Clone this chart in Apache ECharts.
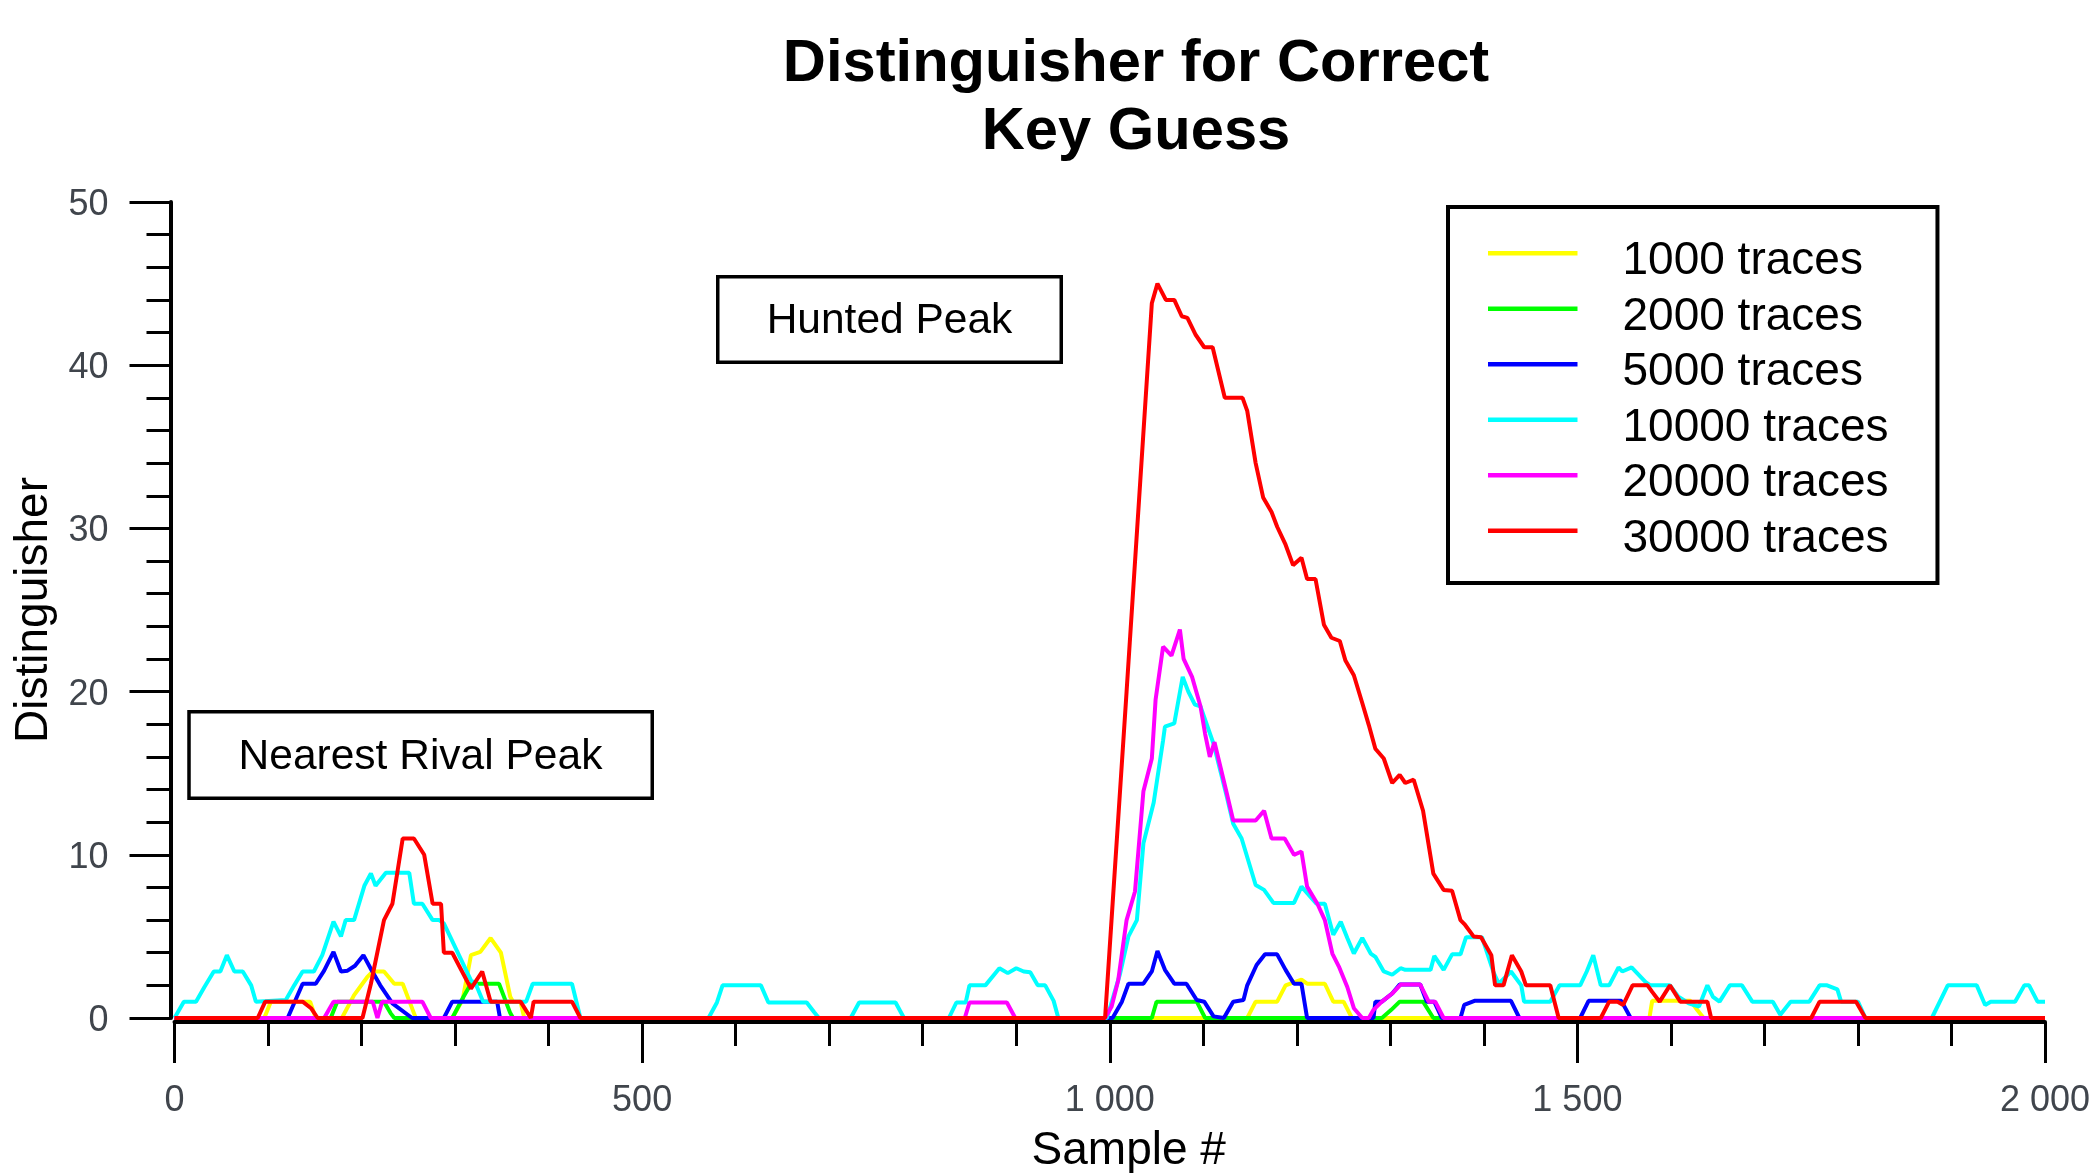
<!DOCTYPE html>
<html><head><meta charset="utf-8">
<script src="https://cdn.jsdelivr.net/npm/echarts@6/dist/echarts.min.js"></script>
<style>html,body{margin:0;padding:0;background:#fff}#c{width:2091px;height:1173px}</style>
</head><body><div id="c"></div><script>
const FONT = "'Liberation Sans', Arial, Helvetica, sans-serif";

const seriesNames = ['1000 traces','2000 traces','5000 traces','10000 traces','20000 traces','30000 traces'];
const seriesColors = ['#ffff00','#00ff00','#0000ff','#00ffff','#ff00ff','#ff0000'];
const xTickLabels = ['0','500','1 000','1 500','2 000'];
const yTickLabels = ['0','10','20','30','40','50'];

const traces1000 = [[0,0],[96,0],[103,1],[145,1],[151,0],[179,0],[192,1.4],[206,2.5],[212,2.85],[224,2.85],[235,2.1],[244,2.1],[256,0.3],[258,0],[297,0],[308,1.1],[317,3.85],[327,4.05],[338,4.9],[349,4],[359,1.3],[362,1],[370,1],[374,0],[1147,0],[1156,1],[1179,1],[1188,2],[1205,2.35],[1211,2.1],[1230,2.1],[1239,1],[1250,1],[1259,0],[1577,0],[1580,1.05],[1621,1.05],[1628,0.5],[1635,0],[2000,0]];
const traces2000 = [[0,0],[167,0],[174,1],[224,1],[231,0.3],[235,0],[297,0],[309,1.3],[317,2.1],[347,2.1],[359,0.3],[362,0],[1045,0],[1050,1],[1093,1],[1102,0],[1291,0],[1301,0.5],[1310,1],[1335,1],[1346,0],[2000,0]];
const traces5000 = [[0,0],[121,0],[137,2.1],[151,2.1],[160,2.9],[170,4.05],[178,2.85],[185,2.9],[193,3.2],[202,3.85],[210,3],[220,2],[233,0.9],[254,0],[288,0],[297,1],[345,1],[348,0],[1003,0],[1013,1],[1020,2.1],[1036,2.1],[1045,2.85],[1051,4.1],[1059,2.95],[1069,2.1],[1082,2.1],[1093,1.1],[1101,1],[1111,0.1],[1122,0],[1132,1],[1143,1.1],[1147,2],[1157,3.25],[1166,3.9],[1179,3.9],[1188,2.95],[1197,2.1],[1205,2.1],[1211,0],[1282,0],[1284,1],[1291,1],[1302,1.5],[1310,2.05],[1332,2.05],[1339,1],[1347,1],[1355,0],[1375,0],[1379,0.8],[1390,1.05],[1429,1.05],[1438,0],[1503,0],[1512,1.05],[1547,1.05],[1557,0],[2000,0]];
const traces10000 = [[0,0],[10,1],[23,1],[32,1.9],[42,2.85],[49,2.85],[56,3.85],[64,2.85],[73,2.85],[82,2],[87,1],[119,1.1],[128,2],[137,2.85],[149,2.85],[158,3.85],[170,5.9],[178,5],[183,6],[192,6],[203,8.1],[210,8.85],[215,8.1],[226,8.9],[251,8.9],[256,7],[265,7],[276,6],[283,6],[288,5.8],[317,2.3],[322,2.1],[330,1],[376,1],[383,2.1],[425,2.1],[434,0],[571,0],[580,0.95],[586,2],[627,2],[635,0.95],[676,0.95],[684,0.35],[689,0],[723,0],[732,0.95],[771,0.95],[780,0],[828,0],[836,0.95],[846,0.95],[850,2],[867,2],[882,3.05],[891,2.75],[900,3.05],[908,2.85],[915,2.8],[923,2],[931,2],[940,1.05],[945,0],[997,0],[1011,2.7],[1020,5],[1029,6],[1036,10.7],[1047,13.2],[1057,17],[1059,17.85],[1069,18.05],[1078,20.9],[1084,20],[1091,19.2],[1097,19.1],[1111,16.8],[1125,13.6],[1132,11.9],[1141,11],[1156,8.15],[1165,7.85],[1175,7.05],[1197,7.05],[1205,8.05],[1221,7],[1230,7],[1239,5.1],[1247,5.9],[1254,4.9],[1261,3.95],[1270,4.9],[1279,3.95],[1284,3.75],[1293,2.85],[1302,2.65],[1311,3.05],[1316,2.95],[1343,2.95],[1347,3.8],[1357,2.95],[1366,3.9],[1375,3.9],[1381,4.95],[1398,4.95],[1410,2.85],[1416,2.1],[1429,2.85],[1440,2],[1443,1],[1471,1],[1481,2],[1503,2],[1510,2.85],[1517,3.85],[1525,2],[1534,2],[1544,3.1],[1548,2.85],[1558,3.1],[1573,2.2],[1578,2],[1599,2],[1608,1.3],[1619,0.9],[1630,0.7],[1639,2],[1645,1.3],[1652,1],[1663,2],[1676,2],[1687,1],[1709,1],[1717,0.2],[1728,1],[1748,1],[1759,2],[1767,2],[1778,1.75],[1782,1],[1800,1],[1808,0],[1879,0],[1896,2],[1927,2],[1936,0.8],[1942,1],[1968,1],[1978,2],[1983,2],[1992,1],[2000,1]];
const traces20000 = [[0,0],[160,0],[170,1],[212,1],[217,0],[222,1],[265,1],[274,0],[845,0],[850,0.95],[890,0.95],[899,0],[995,0],[1002,0.7],[1009,2.3],[1018,6],[1027,7.75],[1036,13.9],[1045,15.9],[1049,19.5],[1057,22.75],[1066,22.2],[1075,23.8],[1079,22],[1088,20.9],[1097,19.1],[1102,17.4],[1107,16],[1112,16.9],[1125,13.8],[1132,12.1],[1156,12.1],[1165,12.7],[1173,11],[1187,11],[1197,10],[1205,10.2],[1211,8.05],[1222,7],[1230,6],[1238,3.95],[1245,3.15],[1254,1.9],[1261,0.6],[1270,0],[1277,0],[1282,0.5],[1291,1],[1302,1.5],[1311,2.05],[1332,2.05],[1341,1],[1348,1],[1357,0],[2000,0]];
const traces30000 = [[0,0],[89,0],[97,1],[137,1],[146,0.6],[153,0],[201,0],[210,2.1],[224,6],[233,7],[244,11],[256,11],[267,10],[276,7],[285,7],[288,4],[297,4],[317,1.8],[329,2.85],[338,1],[370,1],[381,0],[384,1],[425,1],[434,0],[995,0],[1018,20],[1045,43.8],[1051,45],[1060,44],[1069,44],[1077,43],[1083,42.9],[1092,41.85],[1101,41.1],[1110,41.1],[1123,38],[1142,38],[1147,37.2],[1156,34],[1164,31.9],[1173,31],[1179,30.1],[1188,29],[1196,27.75],[1205,28.2],[1211,26.9],[1220,26.9],[1229,24.1],[1237,23.3],[1246,23.1],[1252,21.9],[1261,21],[1270,19.3],[1277,17.95],[1284,16.5],[1293,15.9],[1302,14.4],[1310,14.9],[1316,14.4],[1325,14.6],[1335,12.7],[1346,8.85],[1357,7.85],[1366,7.8],[1375,6],[1380,5.7],[1389,5],[1397,4.95],[1408,3.85],[1412,2],[1421,2],[1430,3.85],[1440,2.85],[1445,2],[1471,2],[1480,0],[1525,0],[1534,1],[1543,1],[1549,0.8],[1559,2],[1575,2],[1580,1.6],[1588,1],[1599,2],[1610,1],[1639,1],[1643,0],[1750,0],[1759,1],[1798,1],[1808,0],[2000,0]];

const seriesData = [traces1000, traces2000, traces5000, traces10000, traces20000, traces30000];

const chart = echarts.init(document.getElementById('c'), null, {renderer:'canvas'});
const tickColor = '#40454c';
chart.setOption({
  animation: false,
  backgroundColor: '#fff',
  title: {
    text: 'Distinguisher for Correct\nKey Guess',
    left: 1136, top: 31, textAlign: 'center', padding: 0,
    textStyle: {fontFamily: FONT, fontSize: 59.7, fontWeight: 'bold', color: '#000', lineHeight: 68}
  },
  legend: {
    orient: 'vertical', left: 1448, top: 207,
    padding: [14.8, 49, 20.7, 40],
    itemWidth: 89.5, itemHeight: 4.5, itemGap: -7.5, icon: 'rect',
    borderColor: '#000', borderWidth: 4, backgroundColor: '#fff',
    formatter: name => '{t|' + name + '}',
    textStyle: {fontFamily: FONT, fontSize: 46, color: '#000',
      rich: {t: {fontFamily: FONT, fontSize: 46, color: '#000', lineHeight: 38.5, padding: [17, 0, 0, 40]}}},
    data: seriesNames
  },
  grid: {left: 174.5, right: 46, top: 202, bottom: 155, containLabel: false, outerBoundsMode: 'none'},
  xAxis: {
    type: 'value', min: 0, max: 2000, interval: 500, offset: 4,
    axisLine: {onZero: false, lineStyle: {color: '#000', width: 4}},
    axisTick: {show: true, length: 41, lineStyle: {color: '#000', width: 3}},
    minorTick: {show: true, splitNumber: 5, length: 24, lineStyle: {color: '#000', width: 3}},
    splitLine: {show: false},
    axisLabel: {margin: 61, fontSize: 36, color: tickColor, fontFamily: FONT,
      formatter: v => xTickLabels[Math.round(v / 500)]},
    name: 'Sample #', nameLocation: 'middle', nameGap: 106,
    nameTextStyle: {fontSize: 46, color: '#000', fontFamily: FONT, padding: [0, 0, 0, 38]}
  },
  yAxis: {
    type: 'value', min: 0, max: 50, interval: 10, offset: 4,
    axisLine: {show: true, onZero: false, lineStyle: {color: '#000', width: 4}},
    axisTick: {show: true, length: 41, lineStyle: {color: '#000', width: 3}},
    minorTick: {show: true, splitNumber: 5, length: 24, lineStyle: {color: '#000', width: 3}},
    splitLine: {show: false},
    axisLabel: {margin: 62, fontSize: 36, color: tickColor, fontFamily: FONT,
      formatter: v => '{a|' + yTickLabels[Math.round(v / 10)] + '}',
      rich: {a: {fontSize: 36, color: tickColor, fontFamily: FONT, padding: [6, 0, 0, 0]}}},
    name: 'Distinguisher', nameLocation: 'middle', nameGap: 107,
    nameTextStyle: {fontSize: 46, color: '#000', fontFamily: FONT}
  },
  graphic: [
    {type: 'rect', shape: {x: 717.75, y: 276.75, width: 343.5, height: 85.5},
      style: {fill: '#fff', stroke: '#000', lineWidth: 3.5}, z: 10},
    {type: 'text', x: 889.5, y: 321, z: 11,
      style: {text: 'Hunted Peak', fontSize: 42.5, fontFamily: FONT, fill: '#000', align: 'center', verticalAlign: 'middle'}},
    {type: 'rect', shape: {x: 189, y: 711.75, width: 463.25, height: 86.5},
      style: {fill: '#fff', stroke: '#000', lineWidth: 3.5}, z: 10},
    {type: 'text', x: 420.5, y: 757, z: 11,
      style: {text: 'Nearest Rival Peak', fontSize: 42.5, fontFamily: FONT, fill: '#000', align: 'center', verticalAlign: 'middle'}}
  ],
  series: seriesNames.map((n, i) => ({
    name: n, type: 'line', data: seriesData[i],
    showSymbol: false, symbol: 'none',
    color: seriesColors[i],
    lineStyle: {color: seriesColors[i], width: 4},
    itemStyle: {color: seriesColors[i]},
    z: 2 + i
  }))
});
</script></body></html>
